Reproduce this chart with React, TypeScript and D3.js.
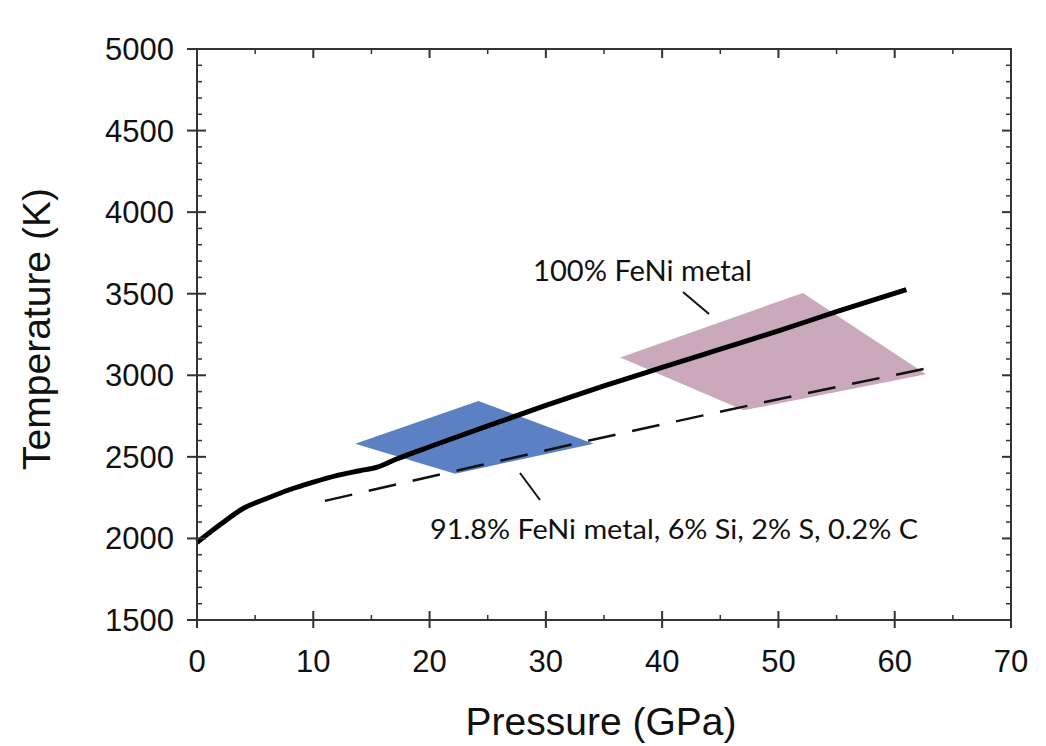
import React from 'react';
import * as d3 from 'd3';

// pressure (GPa) / temperature (K)
const fenP = [0, 2, 4, 6, 8, 10, 12, 14, 15.5, 17, 20, 25, 30, 35, 40, 45, 50, 55, 61];
const fenT = [1975, 2085, 2185, 2245, 2300, 2345, 2385, 2415, 2437, 2482, 2562, 2690, 2815, 2935, 3048, 3160, 3272, 3390, 3525];

const alloyP = [11, 22, 35, 47.5, 62.6];
const alloyT = [2230, 2410, 2620, 2815, 3040];

// shaded experimental fields (corners)
const blueP = [13.6, 24.2, 34.1, 22.2];
const blueT = [2581, 2842, 2581, 2397];
const pinkP = [36.4, 52.1, 62.7, 47.0];
const pinkT = [3109, 3505, 3006, 2785];

const xTicks = [0, 10, 20, 30, 40, 50, 60, 70];
const yTicks = [1500, 2000, 2500, 3000, 3500, 4000, 4500, 5000];

const W = 1046;
const H = 746;
const left = 197, right = 1011, top = 49, bottom = 620;

export default function App() {
  const x = d3.scaleLinear().domain([0, 70]).range([left, right]);
  const y = d3.scaleLinear().domain([1500, 5000]).range([bottom, top]);

  const line = d3
    .line<[number, number]>()
    .x((d) => x(d[0]))
    .y((d) => y(d[1]))
    .curve(d3.curveMonotoneX);

  const fen = fenP.map((p, i) => [p, fenT[i]] as [number, number]);
  const alloy = alloyP.map((p, i) => [p, alloyT[i]] as [number, number]);
  const poly = (ps: number[], ts: number[]) =>
    ps.map((p, i) => `${x(p)},${y(ts[i])}`).join(' ');

  const xMinor = d3.range(5, 70, 10);
  const yMinor = d3.range(1600, 5000, 100).filter((v) => v % 500 !== 0);

  const axisColor = '#333';
  const numFont = '"Liberation Sans", Arial, sans-serif';
  const noteFont = 'Lato, "Noto Sans", sans-serif';

  return (
    <svg
      width={W}
      height={H}
      style={{ position: 'absolute', left: 0, top: 0, background: '#fff' }}
    >
      <polygon points={poly(blueP, blueT)} fill="#5b80c3" />
      <polygon points={poly(pinkP, pinkT)} fill="#c9a9ba" />

      <path d={line(alloy) || ''} fill="none" stroke="#111" strokeWidth={2.5} strokeDasharray="28 17" />
      <path d={line(fen) || ''} fill="none" stroke="#000" strokeWidth={5} strokeLinejoin="round" />

      {/* frame */}
      <rect x={left} y={top} width={right - left} height={bottom - top} fill="none" stroke={axisColor} strokeWidth={2} />

      {/* x ticks */}
      {xTicks.map((t) => (
        <g key={'x' + t}>
          <line x1={x(t)} x2={x(t)} y1={bottom - 9} y2={bottom + 8} stroke={axisColor} strokeWidth={2} />
          <line x1={x(t)} x2={x(t)} y1={top} y2={top + 9} stroke={axisColor} strokeWidth={2} />
          <text x={x(t)} y={672} textAnchor="middle" fontFamily={numFont} fontSize={31} fill="#111">
            {t}
          </text>
        </g>
      ))}
      {xMinor.map((t) => (
        <g key={'xm' + t}>
          <line x1={x(t)} x2={x(t)} y1={bottom - 5} y2={bottom} stroke={axisColor} strokeWidth={1.5} />
          <line x1={x(t)} x2={x(t)} y1={top} y2={top + 5} stroke={axisColor} strokeWidth={1.5} />
        </g>
      ))}

      {/* y ticks */}
      {yTicks.map((t) => (
        <g key={'y' + t}>
          <line x1={left - 10} x2={left + 9} y1={y(t)} y2={y(t)} stroke={axisColor} strokeWidth={2} />
          <line x1={right - 9} x2={right} y1={y(t)} y2={y(t)} stroke={axisColor} strokeWidth={2} />
          <text x={174} y={y(t) + 11} textAnchor="end" fontFamily={numFont} fontSize={31} fill="#111">
            {t}
          </text>
        </g>
      ))}
      {yMinor.map((t) => (
        <g key={'ym' + t}>
          <line x1={left} x2={left + 5} y1={y(t)} y2={y(t)} stroke={axisColor} strokeWidth={1.5} />
          <line x1={right - 5} x2={right} y1={y(t)} y2={y(t)} stroke={axisColor} strokeWidth={1.5} />
        </g>
      ))}

      {/* axis titles */}
      <text x={601} y={735} textAnchor="middle" fontFamily={numFont} fontSize={39} fill="#111">
        Pressure (GPa)
      </text>
      <text
        transform="translate(50,329) rotate(-90)"
        textAnchor="middle"
        fontFamily={numFont}
        fontSize={39}
        fill="#111"
      >
        Temperature (K)
      </text>

      {/* annotations */}
      <text x={533} y={281} fontFamily={noteFont} fontSize={29} fill="#111" textLength={219} lengthAdjust="spacingAndGlyphs">
        100% FeNi metal
      </text>
      <line x1={683} y1={292} x2={709} y2={314} stroke="#111" strokeWidth={2} />

      <text x={430} y={539} fontFamily={noteFont} fontSize={26} fill="#111" textLength={488} lengthAdjust="spacingAndGlyphs">
        91.8% FeNi metal, 6% Si, 2% S, 0.2% C
      </text>
      <line x1={520} y1={473} x2={540} y2={500} stroke="#111" strokeWidth={2} />
    </svg>
  );
}
